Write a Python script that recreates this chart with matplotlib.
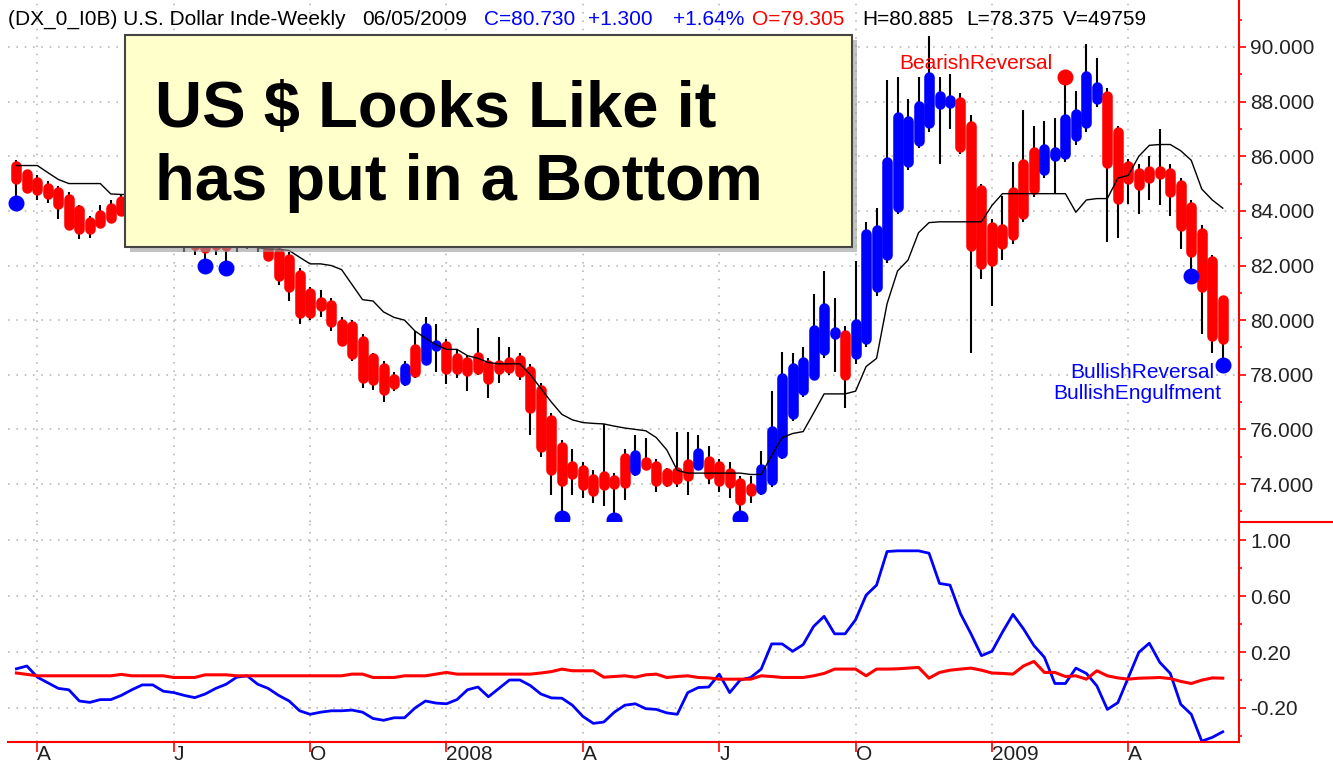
import numpy as np
import pandas as pd
import matplotlib
matplotlib.use("Agg")
import matplotlib.pyplot as plt
from matplotlib.collections import LineCollection
from matplotlib.patches import Rectangle
from matplotlib.lines import Line2D
from matplotlib.ticker import FormatStrFormatter

# weekly bars, US dollar index continuation
weeks = pd.date_range("2007-03-23", "2009-06-05", freq="W-FRI")

opens = [85.65, 85.35, 85.05, 84.85, 84.70, 84.45, 84.05, 83.60, 83.85, 84.10,
         84.35, 84.65, 84.85, 85.05, 84.75, 84.15, 83.45, 83.05, 82.85, 82.95,
         82.85, 83.05, 83.35, 83.05, 82.85, 82.45, 82.25, 81.65, 81.00, 80.65,
         80.55, 79.85, 79.80, 79.25, 78.60, 78.25, 77.85, 77.80, 78.95, 78.55,
         79.05, 79.05, 78.60, 78.45, 78.65, 78.35, 78.35, 78.45, 78.55, 78.15,
         77.45, 76.35, 75.35, 74.65, 74.50, 74.20, 74.30, 74.15, 74.95, 74.50,
         74.80, 74.65, 74.40, 74.45, 74.75, 74.70, 74.85, 74.65, 74.40, 74.05,
         73.85, 73.80, 74.15, 75.15, 76.55, 77.45, 78.00, 78.90, 79.50, 79.45,
         78.75, 79.30, 81.20, 82.40, 84.15, 85.80, 86.55, 87.20, 87.90, 87.95,
         88.00, 87.10, 84.75, 83.40, 83.35, 84.70, 85.70, 86.15, 85.50, 86.00,
         86.10, 86.75, 87.20, 88.10, 88.20, 86.90, 85.65, 85.40, 85.45, 85.45,
         85.40, 84.95, 84.15, 83.20, 82.15, 79.305]
highs = [85.85, 85.50, 85.30, 85.10, 84.90, 84.70, 84.20, 83.80, 84.20, 84.40,
         84.60, 84.90, 85.10, 85.30, 85.00, 84.40, 83.70, 83.30, 83.10, 83.20,
         83.10, 83.30, 83.60, 83.30, 83.10, 82.70, 82.50, 81.90, 81.20, 81.10,
         80.80, 80.10, 80.00, 79.50, 78.80, 78.50, 78.10, 78.50, 79.60, 80.10,
         79.85, 79.30, 78.90, 78.70, 79.70, 78.60, 79.40, 79.00, 78.80, 78.40,
         77.70, 76.60, 75.60, 75.30, 74.80, 74.50, 76.20, 74.40, 75.30, 75.80,
         75.70, 74.90, 74.60, 75.90, 75.90, 75.80, 75.40, 74.90, 74.80, 74.30,
         74.30, 75.20, 77.40, 78.85, 78.80, 79.00, 80.95, 81.80, 80.80, 79.80,
         82.15, 83.60, 84.10, 88.80, 88.90, 88.10, 88.90, 90.40, 88.90, 89.00,
         88.30, 87.50, 85.00, 83.70, 84.55, 85.80, 87.70, 87.10, 87.30, 87.40,
         88.90, 88.40, 90.10, 89.60, 88.50, 87.10, 85.90, 85.70, 86.00, 87.00,
         85.70, 85.20, 84.40, 83.50, 82.40, 80.885]
lows = [84.30, 84.70, 84.40, 84.30, 83.70, 83.30, 82.98, 83.00, 83.40, 83.60,
        83.85, 84.20, 84.40, 84.50, 84.00, 83.30, 82.50, 82.40, 82.00, 82.40,
        81.90, 82.50, 82.60, 82.50, 82.20, 81.30, 80.70, 79.85, 80.00, 80.10,
        79.60, 79.10, 78.50, 77.50, 77.45, 77.00, 77.40, 77.60, 77.90, 78.40,
        78.10, 77.65, 77.90, 77.40, 78.00, 77.15, 77.70, 78.00, 77.80, 75.80,
        75.00, 73.60, 72.75, 73.60, 73.50, 73.30, 73.20, 72.70, 73.40, 74.30,
        74.50, 73.70, 73.90, 73.90, 73.60, 74.50, 74.00, 73.70, 73.50, 72.75,
        73.30, 73.60, 73.90, 74.90, 76.30, 77.20, 77.80, 78.60, 78.10, 76.80,
        78.40, 79.00, 80.90, 82.10, 83.90, 85.50, 86.30, 86.90, 85.70, 87.00,
        86.10, 78.80, 81.50, 80.50, 82.20, 82.80, 83.60, 84.50, 85.20, 84.60,
        85.80, 86.40, 86.90, 87.80, 82.85, 83.00, 84.25, 83.90, 84.40, 84.20,
        83.80, 82.60, 81.60, 79.50, 78.80, 78.375]
closes = [85.15, 84.85, 84.75, 84.60, 84.25, 83.50, 83.35, 83.35, 83.55, 83.75,
          84.00, 84.35, 84.55, 84.65, 84.15, 83.45, 82.85, 82.75, 82.65, 82.75,
          82.70, 82.85, 83.05, 82.85, 82.35, 81.60, 81.20, 80.25, 80.25, 80.50,
          79.95, 79.25, 78.75, 77.90, 77.80, 77.45, 77.65, 78.25, 78.10, 79.70,
          79.10, 78.20, 78.20, 78.15, 78.20, 77.85, 78.20, 78.25, 78.10, 76.80,
          75.35, 74.50, 74.10, 74.35, 73.95, 73.75, 73.95, 74.00, 74.05, 75.05,
          74.70, 74.10, 74.10, 74.20, 74.30, 75.15, 74.35, 74.10, 74.05, 73.40,
          73.75, 74.55, 75.95, 77.90, 78.25, 78.45, 79.65, 80.45, 79.55, 78.00,
          79.85, 83.15, 83.30, 85.80, 87.45, 87.30, 87.85, 88.90, 88.20, 88.05,
          86.35, 82.70, 82.05, 82.15, 82.80, 83.10, 83.90, 84.80, 86.25, 86.15,
          87.35, 87.55, 88.95, 88.55, 85.75, 84.45, 85.15, 84.95, 85.20, 85.35,
          84.70, 83.45, 82.50, 81.20, 79.43, 80.73]
bar_colors = ("RRRRRRRRRRRRRRRRRRRRRRRRRRRRRRRRRRRRR" "BRBB" "RRRRRRRRRRRRRRRRRR"
              "B" "RRRRR" "B" "RRRRR" "BBBBBBBB" "R" "BBBBBBBBBB" "RRRRRRRR"
              "BBBBBB" "RRRRRRRRRRRR")
last_volume = 49759

# stepped trend line drawn over the price bars
trend = [85.66, 85.66, 85.66, 85.40, 85.15, 85.00, 85.00, 85.00, 85.00, 84.62,
         84.60, 84.60, 84.50, 84.40, 84.30, 84.10, 83.90, 83.70, 83.50, 83.30,
         83.10, 82.90, 82.80, 82.65, 82.60, 82.60, 82.55, 82.30, 82.06, 82.06,
         82.00, 81.85, 81.30, 80.75, 80.70, 80.30, 80.10, 80.00, 79.60, 79.34,
         79.10, 78.93, 78.93, 78.70, 78.60, 78.45, 78.40, 78.40, 78.40, 78.00,
         77.50, 77.00, 76.55, 76.35, 76.25, 76.22, 76.20, 76.12, 76.05, 76.00,
         75.95, 75.70, 75.25, 74.50, 74.40, 74.40, 74.40, 74.40, 74.40, 74.40,
         74.35, 74.35, 75.05, 75.70, 75.85, 75.92, 76.60, 77.30, 77.30, 77.30,
         77.40, 78.30, 78.60, 80.60, 81.80, 82.20, 83.20, 83.57, 83.60, 83.60,
         83.60, 83.60, 83.60, 84.20, 84.63, 84.63, 84.63, 84.63, 84.63, 84.63,
         84.63, 83.95, 84.40, 84.45, 84.45, 85.20, 85.30, 86.00, 86.40, 86.43,
         86.43, 86.20, 85.85, 84.80, 84.40, 84.10]

# lower panel
osc_blue = [0.08, 0.10, 0.02, -0.02, -0.06, -0.07, -0.15, -0.16, -0.14, -0.14,
            -0.11, -0.07, -0.035, -0.035, -0.08, -0.09, -0.11, -0.126, -0.10, -0.06,
            -0.03, 0.02, 0.03, -0.03, -0.06, -0.11, -0.15, -0.22, -0.245, -0.23,
            -0.22, -0.22, -0.215, -0.23, -0.275, -0.288, -0.27, -0.27, -0.20, -0.15,
            -0.165, -0.17, -0.14, -0.07, -0.05, -0.12, -0.06, 0.0, 0.0, -0.04,
            -0.10, -0.128, -0.13, -0.18, -0.26, -0.31, -0.30, -0.23, -0.18, -0.17,
            -0.205, -0.21, -0.235, -0.245, -0.09, -0.054, -0.05, 0.042, -0.09, 0.0,
            0.018, 0.078, 0.258, 0.258, 0.205, 0.253, 0.383, 0.455, 0.33, 0.33,
            0.431, 0.606, 0.678, 0.918, 0.923, 0.923, 0.923, 0.906, 0.69, 0.678,
            0.474, 0.33, 0.174, 0.205, 0.342, 0.469, 0.366, 0.246, 0.162, -0.025,
            -0.025, 0.085, 0.047, -0.042, -0.21, -0.162, 0.018, 0.198, 0.263, 0.126,
            0.047, -0.174, -0.245, -0.437, -0.41, -0.37]
osc_red = [0.05, 0.04, 0.03, 0.03, 0.03, 0.03, 0.03, 0.03, 0.03, 0.03,
           0.04, 0.03, 0.03, 0.03, 0.03, 0.018, 0.018, 0.018, 0.037, 0.037,
           0.037, 0.03, 0.03, 0.03, 0.03, 0.03, 0.03, 0.03, 0.03, 0.03,
           0.03, 0.03, 0.042, 0.042, 0.018, 0.018, 0.018, 0.03, 0.03, 0.03,
           0.042, 0.054, 0.042, 0.042, 0.042, 0.042, 0.042, 0.042, 0.042, 0.042,
           0.05, 0.06, 0.078, 0.066, 0.066, 0.066, 0.02, 0.025, 0.03, 0.02,
           0.037, 0.042, 0.018, 0.025, 0.03, 0.018, 0.015, 0.006, 0.006, 0.006,
           0.006, 0.03, 0.025, 0.018, 0.018, 0.018, 0.03, 0.047, 0.078, 0.078,
           0.078, 0.03, 0.078, 0.078, 0.08, 0.085, 0.09, 0.013, 0.054, 0.07,
           0.078, 0.085, 0.07, 0.05, 0.047, 0.042, 0.10, 0.133, 0.054, 0.054,
           0.025, 0.03, 0.006, 0.066, 0.03, 0.015, 0.006, 0.013, 0.015, 0.018,
           0.01, -0.01, -0.025, -0.001, 0.015, 0.013]

bull_bars = [0, 18, 20, 52, 57, 69, 112, 115]
bear_bars = [100]

W, H = 1333, 774
RED = "#FF0000"
BLUE = "#0000FF"
plt.rcParams["font.family"] = ["Liberation Sans", "DejaVu Sans"]

fig = plt.figure(figsize=(W / 100, H / 100), dpi=100)
ax = fig.add_axes([8 / W, 1 - 522 / H, 1231 / W, 522 / H])
ax2 = fig.add_axes([8 / W, 1 - 742 / H, 1231 / W, 220 / H], sharex=ax)

x = np.arange(len(weeks))
o = np.array(opens)
c = np.array(closes)
lo = np.minimum(o, c)
hi = np.maximum(np.maximum(o, c), lo + 0.01)

# wicks then round-capped bodies
ax.vlines(x, lows, highs, color="black", lw=1.5, zorder=2)
segs = [[(xi, a), (xi, b)] for xi, a, b in zip(x, lo, hi)]
cols = [RED if k == "R" else BLUE for k in bar_colors]
ax.add_collection(LineCollection(segs, colors=cols, linewidths=7.6,
                                 capstyle="round", zorder=3))
ax.plot(x, trend, color="black", lw=1.0, zorder=4)

lows_a = np.array(lows)
highs_a = np.array(highs)
ax.plot(x[bull_bars], lows_a[bull_bars], "o", color=BLUE, ms=10.5, zorder=5)
ax.plot(x[bear_bars], highs_a[bear_bars], "o", color=RED, ms=10.5, zorder=5)

ax.annotate("BearishReversal", xy=(bear_bars[0], highs_a[bear_bars[0]]),
            xytext=(-13, 14), textcoords="offset pixels", ha="right",
            va="center", color=RED, fontsize=15, zorder=6)
ax.annotate("BullishReversal", xy=(115, lows_a[115]), xytext=(-8, -8),
            textcoords="offset pixels", ha="right", va="center",
            color=BLUE, fontsize=15, zorder=6)
ax.annotate("BullishEngulfment", xy=(115, lows_a[115]), xytext=(-1, -29),
            textcoords="offset pixels", ha="right", va="center",
            color=BLUE, fontsize=15, zorder=7,
            bbox=dict(facecolor="white", edgecolor="none", pad=0))

ax2.plot(x, osc_blue, color=BLUE, lw=2.0)
ax2.plot(x, osc_red, color=RED, lw=2.2)

# quarter ticks
q_idx = [i for i in range(1, len(weeks))
         if weeks[i].month != weeks[i - 1].month and weeks[i].month in (1, 4, 7, 10)]
q_lbl = [str(weeks[i].year) if weeks[i].month == 1 else weeks[i].strftime("%b")[0]
         for i in q_idx]

ax.set_xlim(-0.8, 116.55)
ax.set_ylim(72.61, 91.72)
ax2.set_ylim(-0.443, 1.129)

grid_kw = dict(color="#BBBBBB", linestyle=(0, (1, 4)), lw=1.2)
for a in (ax, ax2):
    a.set_xticks(q_idx)
    a.grid(True, which="major", **grid_kw)
    a.yaxis.tick_right()
    a.tick_params(axis="y", which="major", direction="out", length=5,
                  width=1.2, color=RED, labelsize=15, labelcolor="#222222", pad=3)
    a.tick_params(axis="y", which="minor", direction="out", length=2.5,
                  width=1.2, color=RED)
    for s in ("top", "left"):
        a.spines[s].set_visible(False)
    a.spines["right"].set_color(RED)
    a.spines["right"].set_linewidth(1.5)

ax.spines["bottom"].set_visible(False)
ax.tick_params(axis="x", length=0, labelbottom=False)
ax.set_yticks(np.arange(74, 91, 2))
ax.set_yticks(np.arange(73, 92, 2), minor=True)
ax.yaxis.set_major_formatter(FormatStrFormatter("%.3f"))

ax2.set_yticks([-0.2, 0.2, 0.6, 1.0])
ax2.set_yticks([-0.4, 0.0, 0.4, 0.8], minor=True)
ax2.yaxis.set_major_formatter(FormatStrFormatter("%.2f"))
ax2.spines["bottom"].set_color(RED)
ax2.spines["bottom"].set_linewidth(1.5)
ax2.set_xticklabels(q_lbl, ha="left")
ax2.tick_params(axis="x", direction="out", length=7, width=1.2, color=RED,
                labelsize=15, labelcolor="#222222", pad=-5)

fig.add_artist(Line2D([1239 / W, 1.0], [1 - 522 / H] * 2, color=RED, lw=1.5))

# header line
chg = closes[-1] - closes[-2]
header = [
    ("(DX_0_I0B) U.S. Dollar Inde-Weekly", 8, "black"),
    (weeks[-1].strftime("%m/%d/%Y"), 362, "black"),
    ("C=%.3f" % closes[-1], 484, BLUE),
    ("%+.3f" % chg, 588, BLUE),
    ("%+.2f%%" % (chg / closes[-2] * 100), 673, BLUE),
    ("O=%.3f" % opens[-1], 752, RED),
    ("H=%.3f" % highs[-1], 862, "black"),
    ("L=%.3f" % lows[-1], 966, "black"),
    ("V=%d" % last_volume, 1063, "black"),
]
for txt, px, col in header:
    fig.text(px / W, 1 - 25 / H, txt, color=col, fontsize=15, va="baseline")

# callout box
bx0, by0, bx1, by1 = 125, 35, 852, 247
fig.add_artist(Rectangle(((bx0 + 5) / W, 1 - (by1 + 5) / H), (bx1 - bx0) / W,
                         (by1 - by0) / H, transform=fig.transFigure,
                         facecolor="#9a9a9a", edgecolor="none", alpha=0.6, zorder=1))
fig.add_artist(Rectangle((bx0 / W, 1 - by1 / H), (bx1 - bx0) / W, (by1 - by0) / H,
                         transform=fig.transFigure, facecolor="#FFFFCC",
                         edgecolor="#444444", lw=1.5, zorder=2))
title_kw = dict(fontsize=47, fontweight="bold", family="Liberation Sans",
                va="baseline", zorder=3)
fig.text(155 / W, 1 - 127 / H, "US $ Looks Like it", **title_kw)
fig.text(155 / W, 1 - 200 / H, "has put in a Bottom", **title_kw)

fig.savefig("out.png", dpi=100)
